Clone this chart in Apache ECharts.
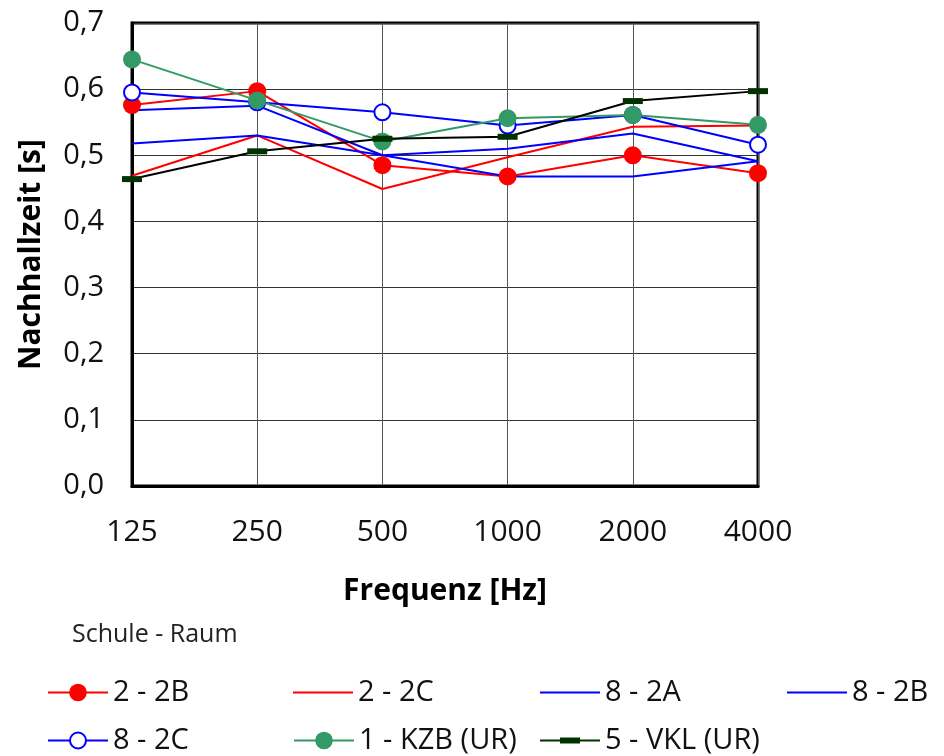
<!DOCTYPE html>
<html>
<head>
<meta charset="utf-8">
<script src="https://cdn.jsdelivr.net/npm/echarts@6/dist/echarts.min.js"></script>
<style>
  html, body { margin: 0; padding: 0; background: #fff; }
  #chart { width: 944px; height: 756px; }
</style>
</head>
<body>
<div id="chart"></div>
<script>
// frequency bands
const frequencies = ["125", "250", "500", "1000", "2000", "4000"];
const yTicks = [0, 0.1, 0.2, 0.3, 0.4, 0.5, 0.6, 0.7];

// reverberation times [s]
const s2_2B = [0.576, 0.597, 0.485, 0.468, 0.500, 0.473];
const s2_2C = [0.469, 0.530, 0.449, 0.497, 0.543, 0.545];
const s8_2A = [0.568, 0.575, 0.500, 0.468, 0.468, 0.491];
const s8_2B = [0.518, 0.530, 0.500, 0.510, 0.533, 0.491];
const s8_2C = [0.595, 0.580, 0.565, 0.545, 0.561, 0.516];
const s1_KZB = [0.645, 0.583, 0.521, 0.556, 0.561, 0.546];
const s5_VKL = [0.464, 0.506, 0.525, 0.528, 0.582, 0.597];

const FONT = "'Open Sans', 'Noto Sans', sans-serif";

const chart = echarts.init(document.getElementById("chart"), null, { renderer: "canvas" });

function line(name, data, color, extra) {
  return Object.assign({
    name,
    type: "line",
    data,
    lineStyle: { color, width: 2 },
    itemStyle: { color },
    symbol: "none",
    animation: false
  }, extra || {});
}

const series = [
  line("2 - 2B", s2_2B, "#ff0000", { symbol: "circle", symbolSize: 18 }),
  line("2 - 2C", s2_2C, "#ff0000"),
  line("8 - 2A", s8_2A, "#0000ff"),
  line("8 - 2B", s8_2B, "#0000ff"),
  line("8 - 2C", s8_2C, "#0000ff", {
    symbol: "circle", symbolSize: 16,
    itemStyle: { color: "#ffffff", borderColor: "#0000ff", borderWidth: 2 }
  }),
  line("1 - KZB (UR)", s1_KZB, "#339966", { symbol: "circle", symbolSize: 18 }),
  line("5 - VKL (UR)", s5_VKL, "#000000", {
    symbol: "rect", symbolSize: [20, 6],
    itemStyle: { color: "#003300" }
  })
];

// legend laid out as a fixed grid like the original
const legendPos = [
  [47, 678], [293, 678], [540, 678], [787, 678],
  [47, 726], [293, 726], [540, 726]
];
// plain lines get a flat bar, the dash marker gets a line with a small block
const legendIcons = [null, "rect", "rect", "rect", null, null,
  "path://M0,2H20V0H40V2H60V4H40V6H20V4H0Z"];
const legendHeights = [22, 2, 2, 2, 20, 22, 6];

const legends = series.map((s, i) => ({
  data: [legendIcons[i] ? { name: s.name, icon: legendIcons[i] } : { name: s.name }],
  left: legendPos[i][0],
  top: legendPos[i][1],
  padding: 0,
  itemWidth: 60,
  itemHeight: legendHeights[i],
  itemGap: 6,
  selectedMode: false,
  textStyle: { fontFamily: FONT, fontSize: 29, color: "#111" }
}));

chart.setOption({
  backgroundColor: "#ffffff",
  animation: false,
  textStyle: { fontFamily: FONT },
  title: {
    text: "Schule - Raum",
    left: 72,
    top: 622,
    padding: 0,
    textStyle: { fontFamily: FONT, fontSize: 25, fontWeight: "normal", color: "#222" }
  },
  legend: legends,
  grid: {
    left: 132, right: 186, top: 23, bottom: 270,
    show: true, borderColor: "#000", borderWidth: 3, backgroundColor: "transparent"
  },
  xAxis: {
    type: "category",
    data: frequencies,
    boundaryGap: false,
    name: "Frequenz [Hz]",
    nameLocation: "middle",
    nameGap: 90,
    nameTextStyle: { fontFamily: FONT, fontSize: 30, fontWeight: "bold", color: "#000" },
    axisLine: { show: true, lineStyle: { color: "#000", width: 3 } },
    axisTick: { show: false },
    axisLabel: { fontFamily: FONT, fontSize: 30, color: "#111", margin: 31 },
    splitLine: { show: true, lineStyle: { color: "#555", width: 1 } }
  },
  yAxis: {
    type: "value",
    min: yTicks[0],
    max: yTicks[yTicks.length - 1],
    interval: 0.1,
    name: "Nachhallzeit [s]",
    nameLocation: "middle",
    nameGap: 86,
    nameRotate: 90,
    nameTextStyle: { fontFamily: FONT, fontSize: 30, fontWeight: "bold", color: "#000" },
    axisLine: { show: true, lineStyle: { color: "#000", width: 3 } },
    axisTick: { show: false },
    axisLabel: {
      fontFamily: FONT, fontSize: 29, color: "#111", margin: 28,
      formatter: v => v.toFixed(1).replace(".", ",")
    },
    splitLine: { show: true, lineStyle: { color: "#333", width: 1 } }
  },
  series
});
</script>
</body>
</html>
